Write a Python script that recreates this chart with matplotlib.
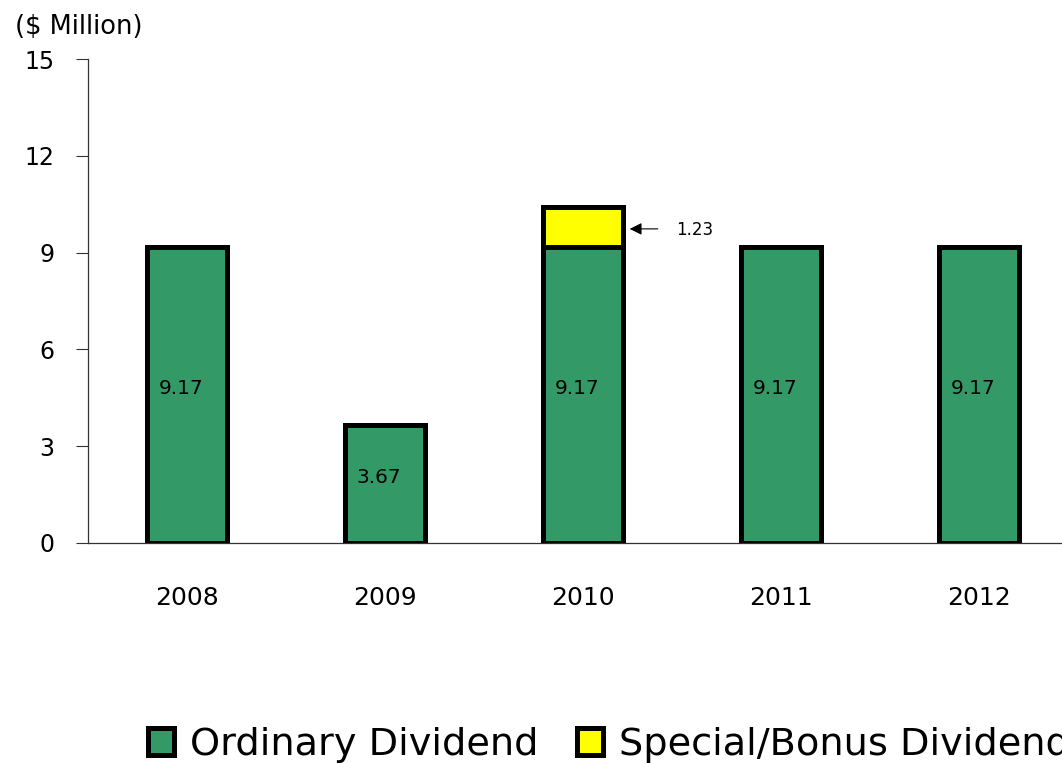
import matplotlib
matplotlib.use("Agg")
import matplotlib.pyplot as plt
from matplotlib.patches import Patch

years = ["2008", "2009", "2010", "2011", "2012"]
ordinary = [9.17, 3.67, 9.17, 9.17, 9.17]
special = [0, 0, 1.23, 0, 0]
ordinary_labels = ["9.17", "3.67", "9.17", "9.17", "9.17"]
special_label = "1.23"
yticks = [0, 3, 6, 9, 12, 15]

GREEN = "#339966"
YELLOW = "#FFFF00"

plt.rcParams['font.family'] = ['DejaVu Sans']

fig = plt.figure(figsize=(10.62, 7.63), dpi=100)
ax = fig.add_axes([88/1062, 220/763, 990/1062, 484/763])

x = list(range(len(years)))
bw = 0.404
ax.bar(x, ordinary, width=bw, color=GREEN, edgecolor="black", linewidth=3.6, zorder=3)
sp_x = [xi for xi, s in zip(x, special) if s > 0]
sp_b = [o for o, s in zip(ordinary, special) if s > 0]
sp_h = [s for s in special if s > 0]
ax.bar(sp_x, sp_h, bottom=sp_b, width=bw, color=YELLOW, edgecolor="black", linewidth=3.6, zorder=3)

for xi, v, lab in zip(x, ordinary, ordinary_labels):
    ax.text(xi - 0.03, v / 2 + 0.2, lab, ha="center", va="center", fontsize=14.5, zorder=4)

# annotation for special dividend
for xi, b, h in zip(sp_x, sp_b, sp_h):
    ax.annotate("", xy=(xi + bw/2 + 0.02, b + h/2 - 0.05), xytext=(xi + bw/2 + 0.19, b + h/2 - 0.05),
                arrowprops=dict(arrowstyle="-|>", color="black", lw=0.8, mutation_scale=18), zorder=4)
    ax.text(xi + bw/2 + 0.27, b + h/2 - 0.1, special_label, ha="left", va="center", fontsize=12)

ax.set_xlim(-0.5, 4.5)
ax.set_ylim(0, 15)
ax.set_yticks(yticks)
ax.set_yticklabels([str(t) for t in yticks], fontsize=17)
ax.set_xticks(x)
ax.set_xticklabels(years, fontsize=18)
ax.tick_params(axis="y", direction="out", length=9, width=0.8, pad=15, color="#333333")
ax.tick_params(axis="x", length=0, pad=31)
for s in ["top", "right"]:
    ax.spines[s].set_visible(False)
ax.spines["left"].set_color("#333333")
ax.spines["left"].set_linewidth(0.9)
ax.spines["bottom"].set_color("#333333")
ax.spines["bottom"].set_linewidth(0.9)

fig.text(15/1062, 1 - 27/763, "($ Million)", ha="left", va="center", fontsize=18.5)

handles = [Patch(facecolor=GREEN, edgecolor="black", linewidth=3.6, label="Ordinary Dividend"),
           Patch(facecolor=YELLOW, edgecolor="black", linewidth=3.6, label="Special/Bonus Dividend")]
fig.legend(handles=handles, loc="center left", bbox_to_anchor=(148/1062, 18/763), ncol=2,
           frameon=False, fontsize=27.5, handlelength=0.68, handleheight=0.68,
           handletextpad=0.42, columnspacing=1.0, borderaxespad=0, borderpad=0)

fig.savefig("out.png", dpi=100)
